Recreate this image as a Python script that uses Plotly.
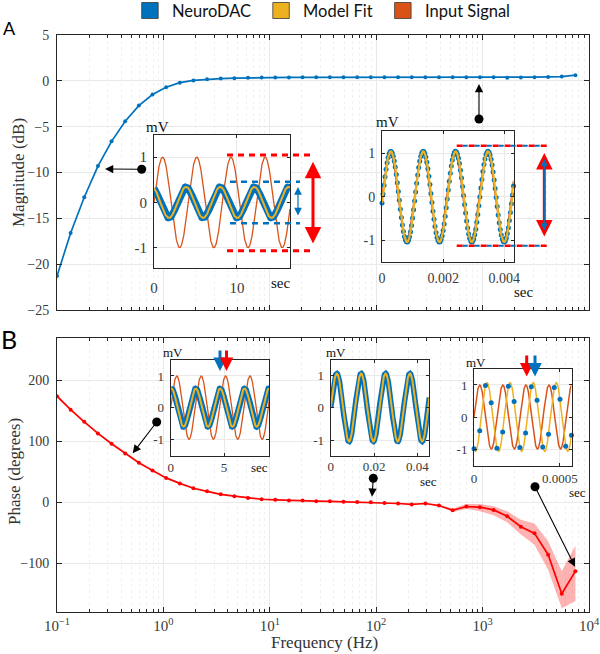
import numpy as np
import plotly.graph_objects as go

# ---------------- data ----------------
freq_hz = [0.1, 0.1343, 0.1804, 0.2425, 0.3257, 0.4376, 0.5879, 0.7898, 1.061, 1.426,
           1.915, 2.573, 3.457, 4.644, 6.239, 8.382, 11.26, 15.13, 20.32, 27.31,
           36.69, 49.29, 66.22, 88.96, 119.5, 160.6, 215.7, 289.8, 389.4, 523.1,
           702.8, 944.2, 1268, 1704, 2289, 3075, 4131, 5549, 7455]
magnitude_db = [-21.3, -16.6, -12.7, -9.3, -6.6, -4.4, -2.7, -1.5, -0.7, -0.2,
                0.04, 0.18, 0.25, 0.29, 0.33, 0.35, 0.36, 0.37, 0.38, 0.38,
                0.39, 0.39, 0.39, 0.40, 0.40, 0.40, 0.40, 0.40, 0.40, 0.40,
                0.40, 0.40, 0.40, 0.33, 0.36, 0.40, 0.43, 0.47, 0.62]
phase_deg = [174, 152, 132, 113, 96, 80, 65, 52, 40, 31,
             23, 18, 13, 10, 7, 5, 4, 3, 2.8, 1.8,
             1.5, 1, 0.5, 0, -1, -2, -3.5, -2, -5.4, -13,
             -7, -8, -12.5, -23, -40, -51, -86, -150, -113]
band_start = 28
phase_upper = [-4.4, -10, -2.7, -2.7, -6.5, -14.8, -28.5, -35, -64, -113, -71]
phase_lower = [-6.4, -16, -10.9, -14.8, -21.4, -32.9, -53, -69.5, -110.6, -174, -162]

legend_labels = ["NeuroDAC", "Model Fit", "Input Signal"]
decade_ticks = [0.1, 1, 10, 100, 1000, 10000]
decade_text = ["10<sup>\u22121</sup>", "10<sup>0</sup>", "10<sup>1</sup>",
               "10<sup>2</sup>", "10<sup>3</sup>", "10<sup>4</sup>"]
mag_ticks = [-25, -20, -15, -10, -5, 0, 5]
phase_ticks = [-100, 0, 100, 200]

# inset signals: which frequency point each inset shows, and its record length
inset_names = ["A1", "A2", "B1", "B2", "B3"]
inset_freq_index = [3, 31, 5, 23, 38]
inset_duration_s = [16.4, 0.0043, 9.24, 0.0455, 0.000567]
inset_xticks = [[0, 10], [0, 0.002, 0.004], [0, 5], [0, 0.02, 0.04], [0, 0.0005]]
inset_xticktext = [["0", "10"], ["0", "0.002", "0.004"], ["0", "5"],
                   ["0", "0.02", "0.04"], ["0", "0.0005"]]
inset_yticks = [-1, 0, 1]
sample_rate_hz = 30000

# ---------------- styling / layout ----------------
W, H = 600, 654
L, R, T, B = 57, 11, 35, 42
PW, PH = W - L - R, H - T - B
BLUE, YEL, ORG, RED = "#0072BD", "#EDB120", "#D95319", "#FF0000"
AX = "#262626"
TICK = "#3a3a3a"
GRID = "#e9e9e9"
MGRID = "#f1f1f1"
SERIF = "Liberation Serif"
SANS = "Lato"


def px(x):
    return (x - L) / PW


def py(y):
    return 1 - (y - T) / PH


def clamp(v):
    return max(0.0, min(1.0, v))


fig = go.Figure()

# main magnitude
fig.add_trace(go.Scatter(x=freq_hz, y=magnitude_db, mode="lines+markers",
                         line=dict(color=BLUE, width=1.7), marker=dict(size=4, color=BLUE),
                         xaxis="x", yaxis="y", showlegend=False, hoverinfo="skip"))
# phase band + line
fig.add_trace(go.Scatter(x=freq_hz[band_start:], y=phase_upper, mode="lines",
                         line=dict(width=0, color="rgba(0,0,0,0)"), xaxis="x2", yaxis="y2",
                         showlegend=False, hoverinfo="skip"))
fig.add_trace(go.Scatter(x=freq_hz[band_start:], y=phase_lower, mode="lines",
                         line=dict(width=0, color="rgba(0,0,0,0)"), fill="tonexty",
                         fillcolor="rgba(255,0,0,0.3)", xaxis="x2", yaxis="y2",
                         showlegend=False, hoverinfo="skip"))
fig.add_trace(go.Scatter(x=freq_hz, y=phase_deg, mode="lines+markers",
                         line=dict(color=RED, width=1.7), marker=dict(size=4, color=RED),
                         xaxis="x2", yaxis="y2", showlegend=False, hoverinfo="skip"))

# inset geometry (pixel boxes: left, top, right, bottom) and y ranges
inset_box = [(154, 135, 290, 268), (382, 131, 513.5, 262), (170.7, 359.5, 269.3, 455.5),
             (330.7, 359.5, 429.3, 456), (474, 369.3, 571.5, 466)]
inset_yr = [[-1.45, 1.49], [-1.506, 1.516], [-1.51, 1.52], [-1.49, 1.477], [-1.53, 1.49]]
inset_style = ["thick", "dots", "thick", "thick", "dots_sep"]
inset_font = [15, 14, 13, 13, 13]
inset_bw = [7, 0, 6, 5.5, 0]
inset_standoff = [6, 3, 0, -2, 0]

layout_axes = {}
shapes = []
annotations = []

for k, name in enumerate(inset_names):
    n = k + 3
    xa, ya = f"x{n}", f"y{n}"
    idx = inset_freq_index[k]
    f = freq_hz[idx]
    amp = 10 ** (magnitude_db[idx] / 20)
    ph = np.deg2rad(phase_deg[idx])
    dur = inset_duration_s[k]
    t = np.linspace(0, dur, 700)
    inp = np.sin(2 * np.pi * f * t)
    out = amp * np.sin(2 * np.pi * f * t + ph)
    xr = [0, dur]
    l, tp, r, b = inset_box[k]
    yr = inset_yr[k]
    # white background of the inset, drawn in the inset's own subplot layer
    shapes.append(dict(type="rect", xref=xa, yref=ya, x0=xr[0], x1=xr[1], y0=yr[0], y1=yr[1],
                       fillcolor="white", line=dict(width=0), layer="below"))
    style = inset_style[k]
    if style == "thick":
        fig.add_trace(go.Scatter(x=t, y=inp, mode="lines", line=dict(color=ORG, width=1.3),
                                 xaxis=xa, yaxis=ya, showlegend=False, hoverinfo="skip"))
        fig.add_trace(go.Scatter(x=t, y=out, mode="lines", line=dict(color=BLUE, width=inset_bw[k]),
                                 xaxis=xa, yaxis=ya, showlegend=False, hoverinfo="skip"))
        fig.add_trace(go.Scatter(x=t, y=out, mode="lines", line=dict(color=YEL, width=2),
                                 xaxis=xa, yaxis=ya, showlegend=False, hoverinfo="skip"))
    else:
        ts = np.arange(0, dur + 0.5 / sample_rate_hz, 1 / sample_rate_hz)
        samp = amp * np.sin(2 * np.pi * f * ts + ph)
        if style == "dots":
            fig.add_trace(go.Scatter(x=t, y=inp, mode="lines", line=dict(color=ORG, width=1.5),
                                     xaxis=xa, yaxis=ya, showlegend=False, hoverinfo="skip"))
            fig.add_trace(go.Scatter(x=ts, y=samp, mode="markers", marker=dict(color=BLUE, size=5),
                                     cliponaxis=False, xaxis=xa, yaxis=ya, showlegend=False, hoverinfo="skip"))
            fig.add_trace(go.Scatter(x=t, y=out, mode="lines", line=dict(color=YEL, width=2.2),
                                     xaxis=xa, yaxis=ya, showlegend=False, hoverinfo="skip"))
        else:
            fig.add_trace(go.Scatter(x=t, y=inp, mode="lines", line=dict(color=ORG, width=1.5),
                                     xaxis=xa, yaxis=ya, showlegend=False, hoverinfo="skip"))
            fig.add_trace(go.Scatter(x=t, y=out, mode="lines", line=dict(color=YEL, width=1.5),
                                     xaxis=xa, yaxis=ya, showlegend=False, hoverinfo="skip"))
            fig.add_trace(go.Scatter(x=ts, y=samp, mode="markers", marker=dict(color=BLUE, size=5),
                                     cliponaxis=False, xaxis=xa, yaxis=ya, showlegend=False, hoverinfo="skip"))
    fnt = dict(family=SERIF, size=inset_font[k], color=TICK)
    common = dict(showline=True, linecolor=AX, linewidth=1, mirror="allticks", ticks="inside",
                  ticklen=3, tickcolor=AX, showgrid=True, gridcolor=GRID, zeroline=False,
                  tickfont=fnt, fixedrange=True, automargin=False)
    layout_axes[f"xaxis{n}"] = dict(common, domain=[clamp(px(l)), clamp(px(r))], range=xr, anchor=ya,
                                    tickmode="array", tickvals=inset_xticks[k],
                                    ticktext=inset_xticktext[k], ticklabelstandoff=inset_standoff[k])
    layout_axes[f"yaxis{n}"] = dict(common, domain=[clamp(py(b)), clamp(py(tp))], range=yr, anchor=xa,
                                    tickmode="array", tickvals=inset_yticks,
                                    ticktext=["-1", "0", "1"], ticklabelstandoff=3)

# inset "mV" / "sec" labels
mv_pos = [(157, 127, 15), (387, 122, 15), (173, 352, 13), (336, 352, 13), (476, 362, 13)]
sec_pos = [(280, 283, 15), (523, 292, 15), (259, 467, 13), (428, 481, 13), (577, 492, 13)]
for (x, y, s) in mv_pos:
    annotations.append(dict(x=px(x), y=py(y), xref="paper", yref="paper", text="mV", showarrow=False,
                            font=dict(family=SERIF, size=s, color="#111"), xanchor="center", yanchor="middle"))
for (x, y, s) in sec_pos:
    annotations.append(dict(x=px(x), y=py(y), xref="paper", yref="paper", text="sec", showarrow=False,
                            font=dict(family=SERIF, size=s, color="#111"), xanchor="center", yanchor="middle"))


def arrow(tail, tip, color, width, size=1.0, head=2, both=False):
    a = dict(x=px(tip[0]), y=py(tip[1]), xref="paper", yref="paper", text="",
             ax=tail[0] - tip[0], ay=tail[1] - tip[1], axref="pixel", ayref="pixel",
             showarrow=True, arrowhead=head, arrowsize=size, arrowwidth=width, arrowcolor=color)
    if both:
        a.update(arrowside="end+start", startarrowhead=head, startarrowsize=size)
    annotations.append(a)


def hline(x0, x1, y, color, width, dash):
    shapes.append(dict(type="line", xref="paper", yref="paper", x0=px(x0), x1=px(x1), y0=py(y), y1=py(y),
                       line=dict(color=color, width=width, dash=dash), layer="above"))


def dot(cx, cy, r=4.5):
    shapes.append(dict(type="circle", xref="paper", yref="paper", x0=px(cx - r), x1=px(cx + r),
                       y0=py(cy + r), y1=py(cy - r), fillcolor="black", line=dict(width=0), layer="above"))


# connectors from insets to curves
conn = [((141.7, 169.3), (105, 169)), ((479, 119), (479, 84)), ((156.7, 422), (132.7, 453.3)),
        ((373.3, 478.3), (372, 496.7)), ((535, 486.7), (575, 566.7))]
for tail, tip in conn:
    dot(*tail)
    arrow(tail, tip, "black", 1.1, size=1.5)

# amplitude markers, inset A1
hline(227, 315, 155, RED, 3, "6px,5px")
hline(227, 315, 250.7, RED, 3, "6px,5px")
hline(230, 300, 181.7, BLUE, 2.5, "6px,5px")
hline(230, 300, 223.3, BLUE, 2.5, "6px,5px")
arrow((313, 245), (313, 161.7), RED, 3, size=1.1, both=True)
arrow((298, 217), (298, 187), BLUE, 1.2, size=1.3, both=True)
# inset A2
hline(456.7, 546.7, 145.7, RED, 2.5, "6px,6px")
hline(456.7, 546.7, 245.7, RED, 2.5, "6px,6px")
hline(462.7, 546.7, 145.7, BLUE, 2, "5px,7px")
hline(462.7, 546.7, 245.7, BLUE, 2, "5px,7px")
arrow((544.3, 238), (544.3, 153), RED, 3, size=1.1, both=True)
arrow((544.3, 232), (544.3, 159), BLUE, 1.2, size=1.2, both=True)
# phase arrows, insets B1 and B3
arrow((220, 349), (220, 371), BLUE, 3, size=0.9)
arrow((226.5, 349), (226.5, 371), RED, 3, size=0.9)
arrow((526.7, 354), (526.7, 376.5), RED, 3, size=0.9)
arrow((535, 354), (535, 376.5), BLUE, 3, size=0.9)

# legend (drawn manually)
leg_colors = [BLUE, YEL, ORG]
leg_sq_x = [141.7, 272.8, 394.6]
for lbl, c, x in zip(legend_labels, leg_colors, leg_sq_x):
    shapes.append(dict(type="rect", xref="paper", yref="paper", x0=px(x), x1=px(x + 16.5),
                       y0=py(18.5), y1=py(2.5), fillcolor=c, line=dict(color="#3a3a3a", width=0.8)))
    annotations.append(dict(x=px(x + 28.5), y=py(11), xref="paper", yref="paper", text=lbl,
                            showarrow=False, xanchor="left", yanchor="middle",
                            font=dict(family=SANS, size=16.5, color="#111")))

# panel labels
for lbl, (x, y), s in zip(["A", "B"], [(9, 28), (9, 339)], [18, 25]):
    annotations.append(dict(x=px(x), y=py(y), xref="paper", yref="paper", text=lbl, showarrow=False,
                            xanchor="center", yanchor="middle", font=dict(family=SANS, size=s, color="black")))

# axis titles
annotations.append(dict(x=px(18), y=py(173), xref="paper", yref="paper", text="Magnitude (dB)",
                        showarrow=False, textangle=-90, xanchor="center", yanchor="middle",
                        font=dict(family=SERIF, size=17, color="#333")))
annotations.append(dict(x=px(14), y=py(472), xref="paper", yref="paper", text="Phase (degrees)",
                        showarrow=False, textangle=-90, xanchor="center", yanchor="middle",
                        font=dict(family=SERIF, size=17, color="#333")))
annotations.append(dict(x=px(324), y=py(642), xref="paper", yref="paper", text="Frequency (Hz)",
                        showarrow=False, xanchor="center", yanchor="middle",
                        font=dict(family=SERIF, size=17, color="#333")))

minor_vals = [m * 10.0 ** e for e in range(-1, 4) for m in range(2, 10)]
minor = dict(ticks="inside", ticklen=3, tickcolor=AX, tickmode="array", tickvals=minor_vals,
             showgrid=True, gridcolor=MGRID, griddash="dot")
main_common = dict(showline=True, linecolor=AX, linewidth=1, mirror="allticks", ticks="inside",
                   ticklen=5, tickcolor=AX, showgrid=True, gridcolor=GRID, zeroline=False,
                   tickfont=dict(family=SERIF, size=14, color=TICK), fixedrange=True, automargin=False)

fig.update_layout(
    template="none",
    width=W, height=H, margin=dict(l=L, r=R, t=T, b=B, autoexpand=False),
    paper_bgcolor="white", plot_bgcolor="white", showlegend=False, hovermode=False,
    xaxis=dict(main_common, type="log", range=[-1, 4], domain=[0, 1], anchor="y",
               tickmode="array", tickvals=decade_ticks, showticklabels=False, minor=minor),
    yaxis=dict(main_common, range=[-25, 5], domain=[clamp(py(310)), clamp(py(35))], anchor="x",
               tickmode="array", tickvals=mag_ticks, ticklabelstandoff=4),
    xaxis2=dict(main_common, type="log", range=[-1, 4], domain=[0, 1], anchor="y2",
                tickmode="array", tickvals=decade_ticks, ticktext=decade_text, minor=minor,
                tickfont=dict(family=SERIF, size=15, color=TICK)),
    yaxis2=dict(main_common, range=[-180, 270], domain=[clamp(py(612)), clamp(py(337.7))], anchor="x2",
                tickmode="array", tickvals=phase_ticks, ticklabelstandoff=4),
    shapes=shapes, annotations=annotations,
)
fig.update_layout(**layout_axes)

fig.write_html("out.html", config={"displayModeBar": False},
               post_script="document.body.style.margin='0px';document.body.style.overflow='hidden';")
